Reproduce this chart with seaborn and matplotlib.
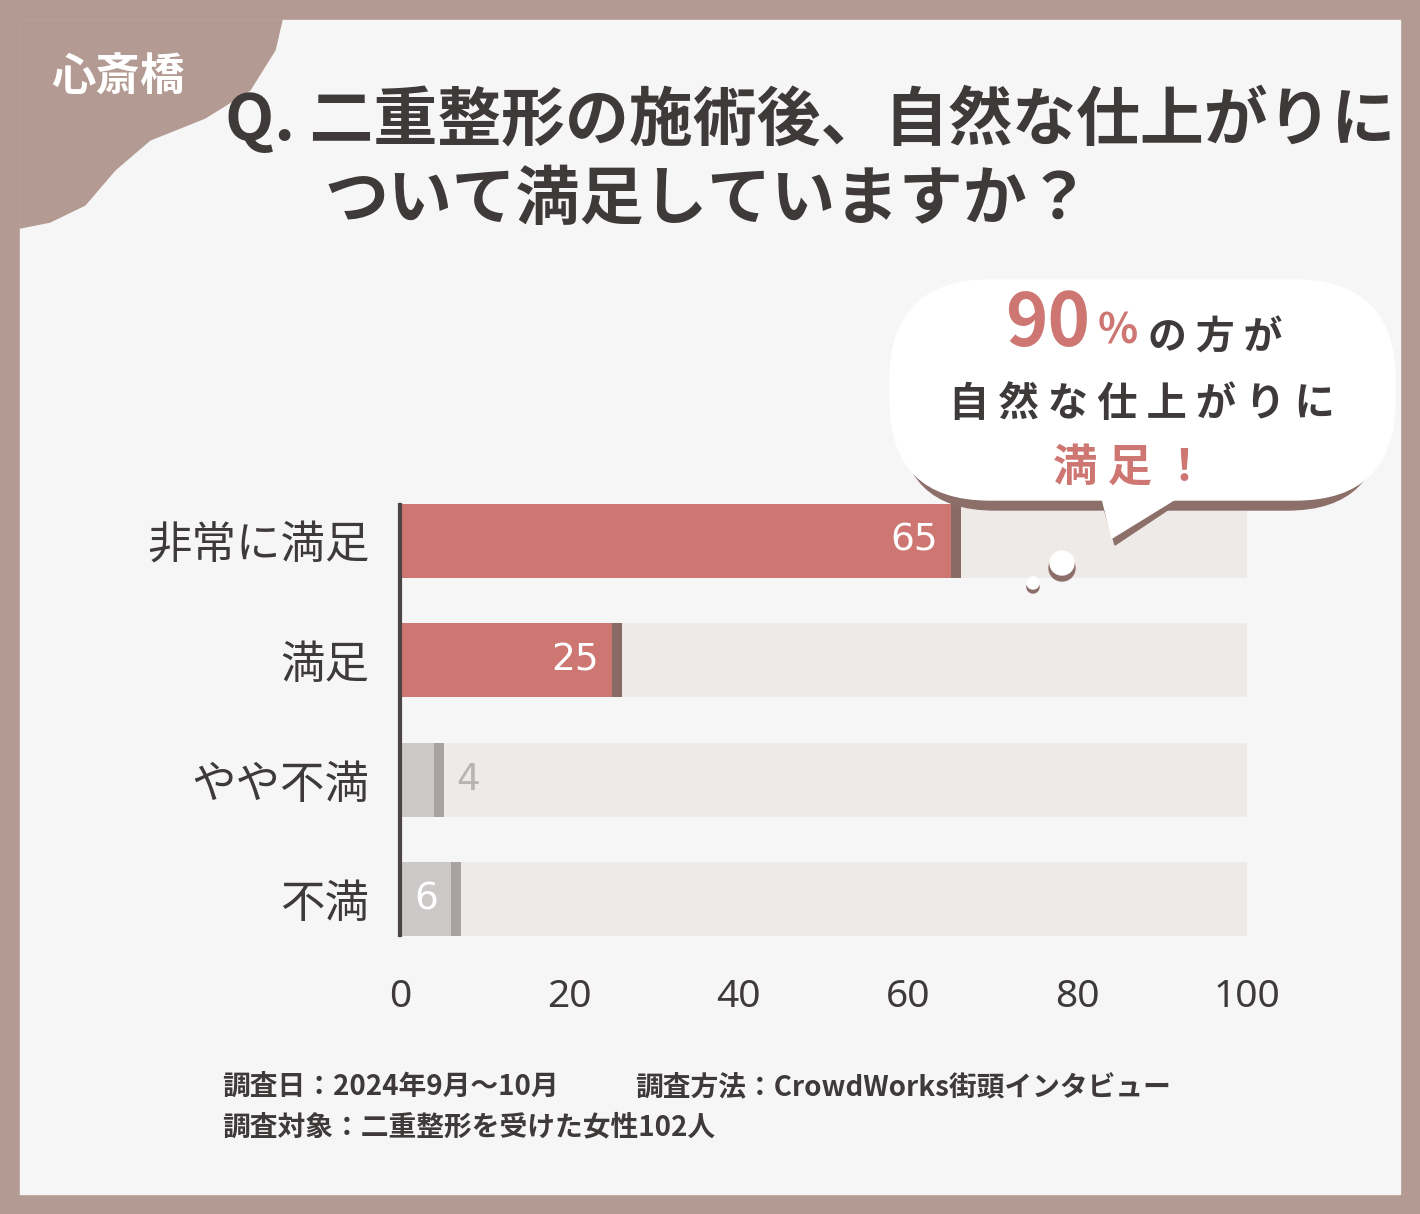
import matplotlib
matplotlib.use("Agg")
import matplotlib.pyplot as plt
import seaborn as sns
import pandas as pd
from matplotlib.patches import FancyBboxPatch, Polygon, Circle, Rectangle

plt.rcParams["font.family"] = "Noto Sans CJK JP"

# データ
categories = ["非常に満足", "満足", "やや不満", "不満"]
values = [65, 25, 4, 6]
bar_colors = ["#cd7672", "#cd7672", "#cbc8c7", "#cbc8c7"]
shadow_colors = ["#8a6a64", "#8a6a64", "#a8a3a2", "#a8a3a2"]
xticks = [0, 20, 40, 60, 80, 100]

W, H = 1420, 1214
fig = plt.figure(figsize=(W / 100, H / 100), dpi=100)
fig.patch.set_facecolor("#b39a92")

def fx(x):
    return x / W

def fy(y):
    return 1 - y / H

def pixel_axes():
    a = fig.add_axes([0, 0, 1, 1])
    a.set_xlim(0, W)
    a.set_ylim(H, 0)
    a.axis("off")
    a.patch.set_alpha(0)
    return a

# 背景パネル
bg = pixel_axes()
bg.add_patch(Rectangle((20, 20), W - 40, H - 40, color="#f7f6f6", zorder=0))
blob = [(20, 20), (282, 20), (275, 50), (250, 90), (205, 118), (150, 140),
        (115, 170), (85, 205), (50, 222), (20, 228)]
bg.add_patch(Polygon(blob, closed=True, color="#b39a92", zorder=1))
bg.text(118, 78, "心斎橋", color="white", fontsize=32, fontweight="bold",
        ha="center", va="center")
bg.text(225, 120, "Q. 二重整形の施術後、自然な仕上がりに", color="#3f3a3a",
        fontsize=46, fontweight="bold", ha="left", va="center")
bg.text(325, 200, "ついて満足していますか？", color="#3f3a3a",
        fontsize=46, fontweight="bold", ha="left", va="center")

# 脚注
bg.text(222, 1087, "調査日：2024年9月～10月", color="#3f3a3a", fontsize=20,
        fontweight="bold", ha="left", va="center")
bg.text(635, 1087, "調査方法：CrowdWorks街頭インタビュー", color="#3f3a3a", fontsize=20,
        fontweight="bold", ha="left", va="center")
bg.text(222, 1127, "調査対象：二重整形を受けた女性102人", color="#3f3a3a", fontsize=20,
        fontweight="bold", ha="left", va="center")

# 棒グラフ
df = pd.DataFrame({"category": categories, "value": values})
df["track"] = 100
df["shadow"] = df["value"] + 1.2

ax = fig.add_axes([fx(400), fy(959), fx(1247) - fx(400), (959 - 481) / H])
ax.set_facecolor("none")
sns.barplot(data=df, x="track", y="category", color="#eeeae8", width=0.62,
            orient="h", saturation=1, ax=ax, zorder=1)
sns.barplot(data=df, x="shadow", y="category", hue="category", palette=shadow_colors,
            width=0.62, orient="h", saturation=1, legend=False, ax=ax, zorder=2)
sns.barplot(data=df, x="value", y="category", hue="category", palette=bar_colors,
            width=0.62, orient="h", saturation=1, legend=False, ax=ax, zorder=3)
ax.set_xlim(0, 100)
ax.set_ylim(3.5, -0.5)
ax.plot([0, 0], [-0.3, 3.3], color="#4a4444", lw=3, zorder=5, clip_on=False)

for i, v in enumerate(values):
    if v >= 6:
        ax.text(v - 1.5, i, str(v), color="white", fontsize=27, ha="right",
                va="center", zorder=6, fontfamily="DejaVu Sans Condensed")
    else:
        ax.text(v + 2.6, i, str(v), color="#b8b4b3", fontsize=27, ha="left",
                va="center", zorder=6, fontfamily="DejaVu Sans Condensed")

ax.set_xticks(xticks)
ax.set_xticklabels([str(t) for t in xticks], fontsize=28, color="#3f3a3a",
                   fontfamily="Noto Sans")
ax.tick_params(axis="x", length=0, pad=14)
ax.tick_params(axis="y", length=0, pad=22)
ax.set_yticks(range(len(categories)))
ax.set_yticklabels(categories, fontsize=32, color="#3f3a3a")
ax.set_xlabel("")
ax.set_ylabel("")
for s in ax.spines.values():
    s.set_visible(False)

# 吹き出し（グラフの上に重ねる）
ov = pixel_axes()
ov.add_patch(FancyBboxPatch((900, 300), 482, 210, boxstyle="round,pad=0,rounding_size=95",
                            color="#8c6f69", zorder=5))
ov.add_patch(FancyBboxPatch((890, 280), 505, 220, boxstyle="round,pad=0,rounding_size=100",
                            color="white", zorder=6))
ov.add_patch(Polygon([(1100, 495), (1190, 495), (1115, 545)], color="#8c6f69", zorder=5))
ov.add_patch(Polygon([(1100, 490), (1190, 490), (1112, 538)], color="white", zorder=6))
ov.add_patch(Circle((1062, 568), 13, color="#8c6f69", zorder=5))
ov.add_patch(Circle((1062, 563), 12, color="white", zorder=6))
ov.add_patch(Circle((1033, 587), 6, color="#8c6f69", zorder=5))
ov.add_patch(Circle((1033, 583), 6, color="white", zorder=6))
ov.text(1048, 325, "90", color="#cd7672", fontsize=52, fontweight="bold",
        ha="center", va="center", zorder=7)
ov.text(1118, 332, "%", color="#cd7672", fontsize=30, fontweight="bold",
        ha="center", va="center", zorder=7)
ov.text(1215, 338, "の 方 が", color="#3f3a3a", fontsize=28, fontweight="bold",
        ha="center", va="center", zorder=7)
ov.text(1142, 405, "自 然 な 仕 上 が り に", color="#3f3a3a", fontsize=29,
        fontweight="bold", ha="center", va="center", zorder=7)
ov.text(1130, 468, "満 足 ！", color="#cd7672", fontsize=32, fontweight="bold",
        ha="center", va="center", zorder=7)

fig.savefig("out.png", dpi=100, facecolor=fig.get_facecolor())
